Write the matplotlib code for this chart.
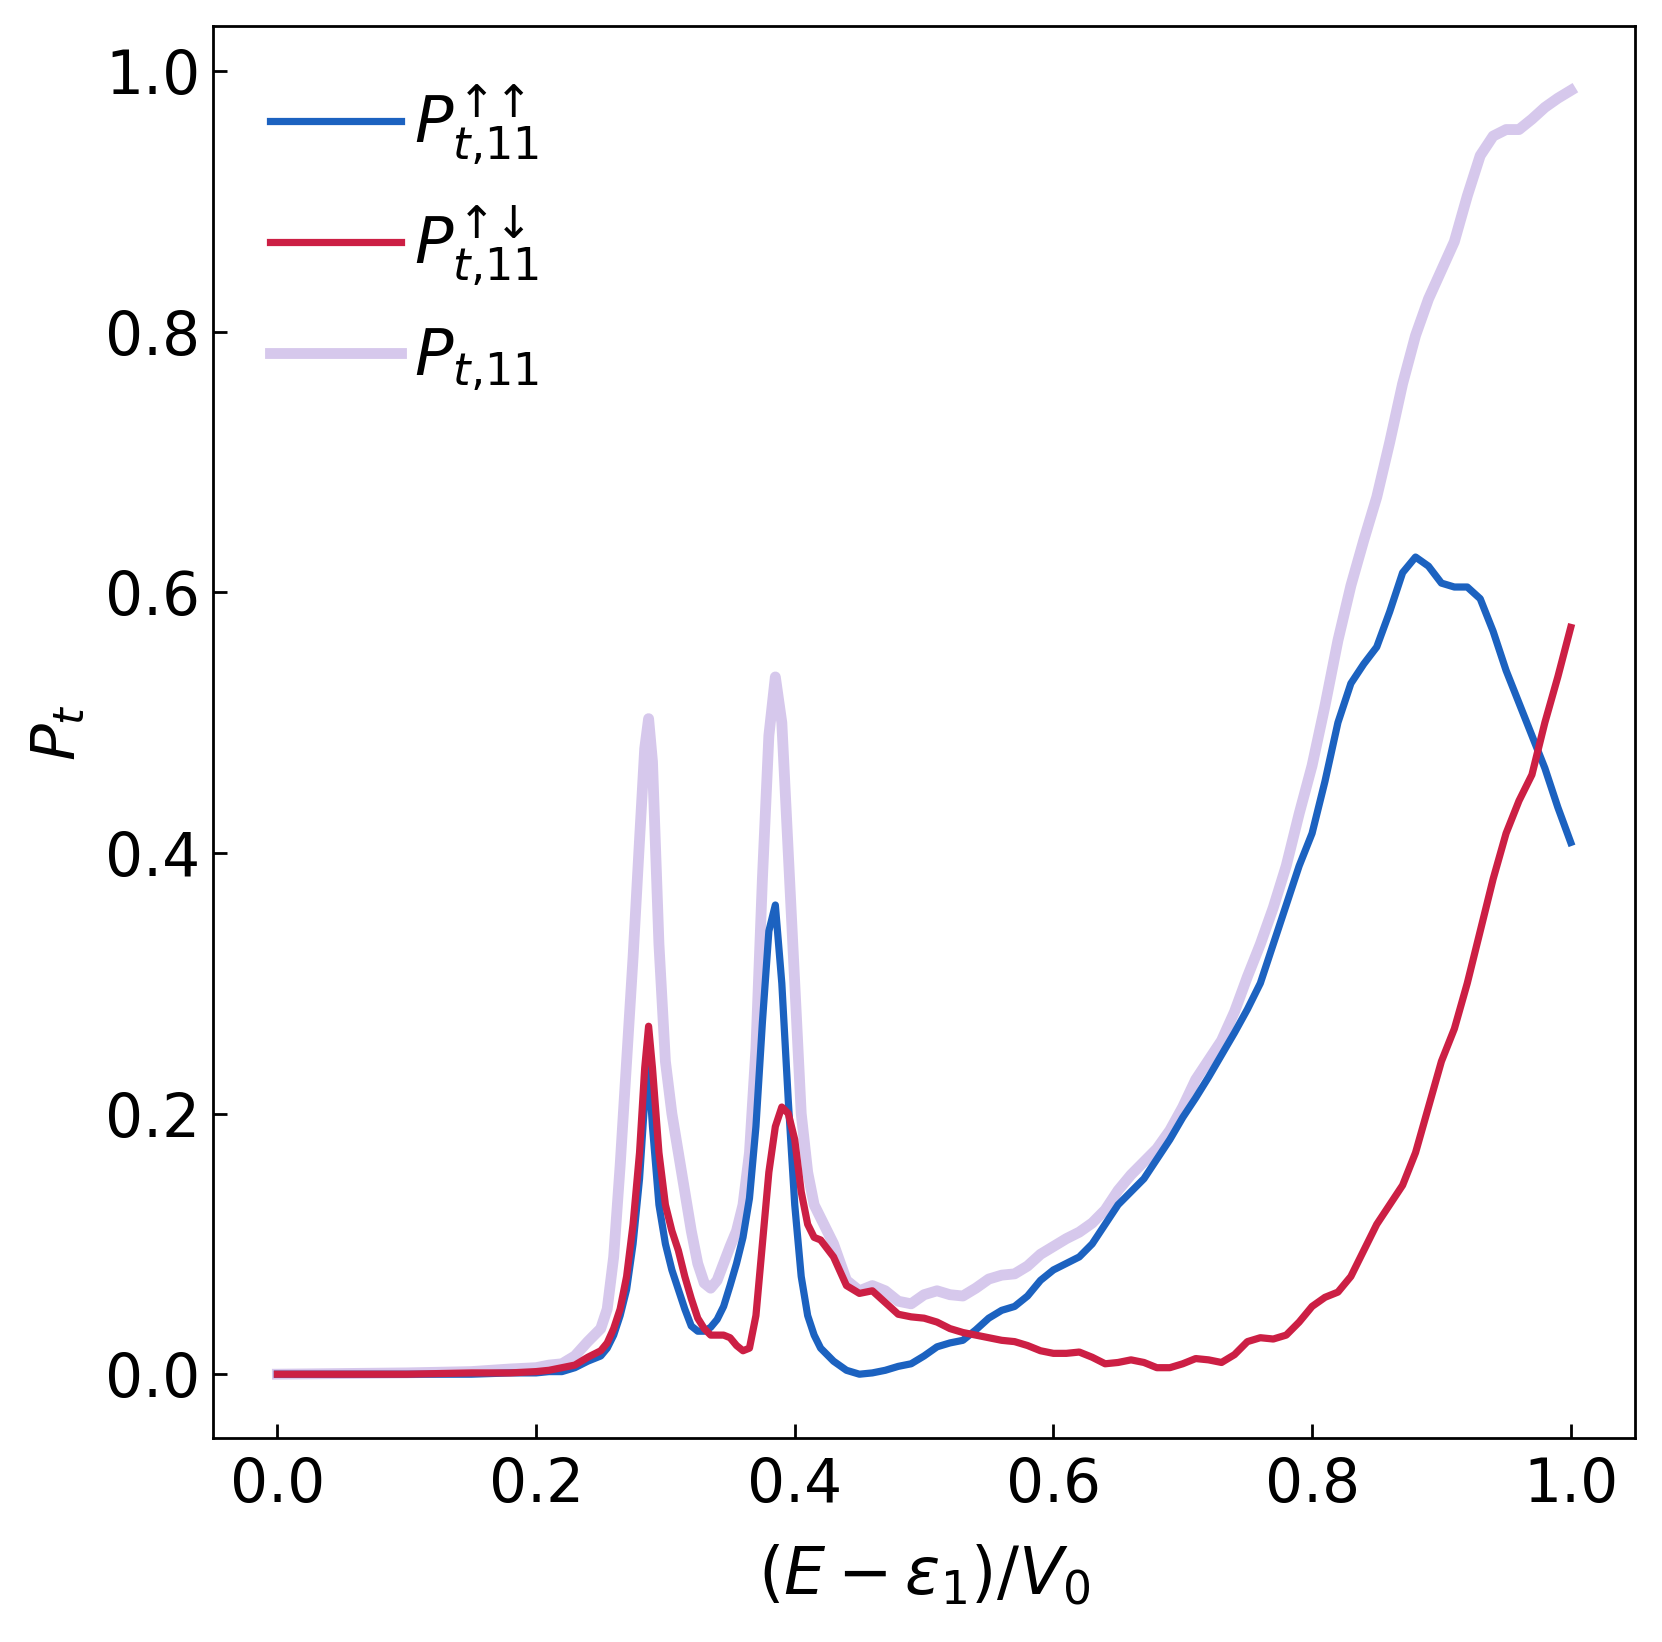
import numpy as np
from matplotlib import pyplot as plt

# energy grid, (E - eps_1)/V0
x = [0.0, 0.05, 0.10, 0.15, 0.18, 0.20, 0.21, 0.22, 0.23, 0.24, 0.25, 0.255,
     0.26, 0.265, 0.27, 0.275, 0.28, 0.284, 0.287, 0.29, 0.295, 0.30, 0.305,
     0.31, 0.315, 0.32, 0.325, 0.33, 0.335, 0.34, 0.345, 0.35, 0.355, 0.36,
     0.365, 0.37, 0.375, 0.38, 0.385, 0.39, 0.395, 0.40, 0.405, 0.41, 0.415,
     0.42, 0.43, 0.44, 0.45, 0.46, 0.47, 0.48, 0.49, 0.50, 0.51, 0.52, 0.53,
     0.54, 0.55, 0.56, 0.57, 0.58, 0.59, 0.60, 0.61, 0.62, 0.63, 0.64, 0.65,
     0.66, 0.67, 0.68, 0.69, 0.70, 0.71, 0.72, 0.73, 0.74, 0.75, 0.76, 0.77,
     0.78, 0.79, 0.80, 0.81, 0.82, 0.83, 0.84, 0.85, 0.86, 0.87, 0.88, 0.89,
     0.90, 0.91, 0.92, 0.93, 0.94, 0.95, 0.96, 0.97, 0.98, 0.99, 1.00]

# spin up -> up
p_uu = [0, 0, 0, 0, 0.001, 0.001, 0.002, 0.002, 0.005, 0.01, 0.014, 0.02,
        0.03, 0.045, 0.065, 0.1, 0.15, 0.21, 0.235, 0.19, 0.13, 0.1, 0.08,
        0.065, 0.05, 0.037, 0.033, 0.033, 0.036, 0.042, 0.052, 0.068, 0.085, 0.105,
        0.135, 0.19, 0.27, 0.34, 0.36, 0.3, 0.21, 0.13, 0.075, 0.045, 0.03,
        0.02, 0.01, 0.003, 0.0, 0.001, 0.003, 0.006, 0.008, 0.014, 0.021, 0.024, 0.026,
        0.034, 0.043, 0.049, 0.052, 0.06, 0.072, 0.08, 0.085, 0.09, 0.1, 0.115, 0.13,
        0.14, 0.15, 0.165, 0.18, 0.197, 0.212, 0.228, 0.245, 0.262, 0.28, 0.3, 0.33,
        0.36, 0.39, 0.415, 0.455, 0.5, 0.53, 0.545, 0.558, 0.585, 0.615, 0.627, 0.62,
        0.607, 0.604, 0.604, 0.595, 0.57, 0.54, 0.515, 0.49, 0.465, 0.435, 0.408]

# spin up -> down
p_ud = [0, 0, 0, 0.001, 0.001, 0.002, 0.003, 0.005, 0.007, 0.013, 0.018, 0.024,
        0.035, 0.05, 0.075, 0.115, 0.17, 0.235, 0.267, 0.235, 0.17, 0.13, 0.11,
        0.095, 0.075, 0.058, 0.043, 0.035, 0.03, 0.03, 0.03, 0.028, 0.022, 0.018,
        0.02, 0.045, 0.1, 0.155, 0.19, 0.205, 0.2, 0.18, 0.14, 0.115, 0.105,
        0.103, 0.09, 0.068, 0.062, 0.064, 0.055, 0.046, 0.044, 0.043, 0.04, 0.035, 0.032,
        0.03, 0.028, 0.026, 0.025, 0.022, 0.018, 0.016, 0.016, 0.017, 0.013, 0.008, 0.009,
        0.011, 0.009, 0.005, 0.005, 0.008, 0.012, 0.011, 0.009, 0.015, 0.025, 0.028, 0.027,
        0.03, 0.04, 0.052, 0.059, 0.063, 0.075, 0.095, 0.115, 0.13, 0.145, 0.17, 0.205,
        0.24, 0.265, 0.3, 0.34, 0.38, 0.415, 0.44, 0.46, 0.5, 0.535, 0.573]

# total
p_tot = [0, 0.0005, 0.001, 0.002, 0.004, 0.005, 0.007, 0.008, 0.014, 0.025, 0.035, 0.05,
         0.09, 0.16, 0.24, 0.32, 0.41, 0.48, 0.503, 0.47, 0.33, 0.24, 0.2,
         0.17, 0.14, 0.11, 0.085, 0.07, 0.066, 0.072, 0.085, 0.098, 0.11, 0.13,
         0.17, 0.25, 0.38, 0.49, 0.535, 0.5, 0.4, 0.3, 0.2, 0.155, 0.13,
         0.12, 0.1, 0.072, 0.064, 0.068, 0.064, 0.056, 0.054, 0.061, 0.064, 0.061, 0.06,
         0.066, 0.073, 0.076, 0.077, 0.083, 0.092, 0.098, 0.104, 0.109, 0.116, 0.126, 0.141,
         0.153, 0.163, 0.173, 0.187, 0.205, 0.226, 0.241, 0.256, 0.278, 0.305, 0.33, 0.358,
         0.39, 0.43, 0.467, 0.513, 0.563, 0.605, 0.64, 0.673, 0.715, 0.76, 0.797, 0.825,
         0.847, 0.869, 0.904, 0.935, 0.95, 0.955, 0.955, 0.963, 0.972, 0.979, 0.985]

fig = plt.figure(figsize=(8.31, 8.21), dpi=200)
ax = fig.add_axes([0.128, 0.124, 0.856, 0.860])

ax.plot(x, p_uu, color='#1c62c0', lw=2.6, label=r'$P_{t{,}11}^{↑↑}$', zorder=3)
ax.plot(x, p_ud, color='#cc1f44', lw=2.6, label=r'$P_{t{,}11}^{↑↓}$', zorder=4)
ax.plot(x, p_tot, color='#d6c8ec', lw=3.9, label=r'$P_{t{,}11}$', zorder=2)

ax.set_xticks([0.0, 0.2, 0.4, 0.6, 0.8, 1.0])
ax.set_yticks([0.0, 0.2, 0.4, 0.6, 0.8, 1.0])
ax.tick_params(direction='in', labelsize=21.5, length=5, width=1.0)
ax.tick_params(axis='x', pad=6.5)
ax.tick_params(axis='y', pad=4.5)
for s in ax.spines.values():
    s.set_linewidth(1.0)

ax.set_xlabel(r'$(E-\varepsilon_1)/V_0$', fontsize=23.5, labelpad=10)
ax.set_ylabel(r'$P_t$', fontsize=22, labelpad=6)

ax.legend(loc='upper left', frameon=False, fontsize=23, handlelength=2.05,
          handletextpad=0.2, labelspacing=0.58, borderaxespad=0.5)

plt.savefig('out.png', dpi=200)
